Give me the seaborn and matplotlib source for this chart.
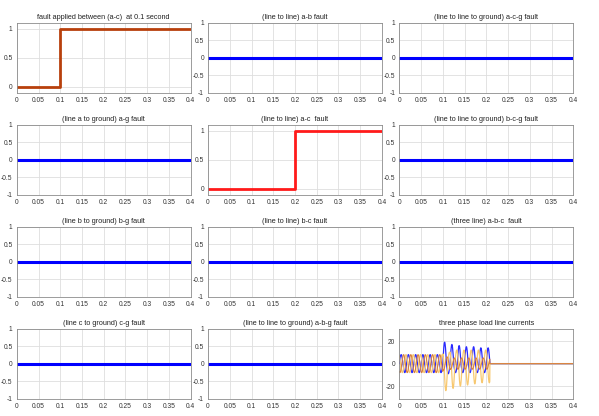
import numpy as np
import pandas as pd
import matplotlib
matplotlib.use("Agg")
import matplotlib.pyplot as plt
import seaborn as sns

# fault signals: time break points and levels (step functions)
time_span = [0, 0.4]
flat_t = [0.0, 0.4]
flat_v = [0.0, 0.0]
ac_main_t = [0.0, 0.1, 0.4]
ac_main_v = [0.0, 1.0, 1.0]
ac_line_t = [0.0, 0.2, 0.4]
ac_line_v = [0.0, 1.0, 1.0]

titles = [
    "fault applied between (a-c)  at 0.1 second",
    "(line to line) a-b fault",
    "(line to line to ground) a-c-g fault",
    "(line a to ground) a-g fault",
    "(line to line) a-c  fault",
    "(line to line to ground) b-c-g fault",
    "(line b to ground) b-g fault",
    "(line to line) b-c fault",
    "(three line) a-b-c  fault",
    "(line c to ground) c-g fault",
    "(line to line to ground) a-b-g fault",
    "three phase load line currents",
]

# load currents: 60 Hz, per-cycle peak / trough
freq = 60.0
current_end = 0.208
blue_peaks = [8, 8, 8, 8, 8, 8, 19, 17, 16, 15, 15, 14, 14]
blue_troughs = [-8, -8, -8, -8, -8, -8, -9, -8, -8, -8, -8, -8, -8]
red_peaks = [8, 8, 8, 8, 8, 8, 6, 5, 5, 5, 5, 5, 5]
red_troughs = [-8, -8, -8, -8, -8, -8, -6, -5, -5, -5, -5, -5, -5]
yel_peaks = [8, 8, 8, 8, 8, 8, 10, 12, 12, 12, 12, 12, 12]
yel_troughs = [-8, -8, -8, -8, -8, -8, -24, -22, -20, -19, -18, -17, -17]
phase_shift = [0.0, -2 * np.pi / 3, 2 * np.pi / 3]


def phase_wave(t, peaks, troughs, shift):
    k = np.clip((t * freq).astype(int), 0, len(peaks) - 1)
    s = np.sin(2 * np.pi * freq * t + shift)
    y = np.where(s > 0, s * np.array(peaks)[k], -s * np.array(troughs)[k])
    return np.where(t <= current_end, y, 0.0)


sns.set_theme(style="whitegrid")
plt.rcParams["font.family"] = ["Liberation Sans Narrow", "Liberation Sans", "DejaVu Sans"]
plt.rcParams["font.stretch"] = "condensed"
plt.rcParams["axes.edgecolor"] = "#8c8c8c"
plt.rcParams["axes.linewidth"] = 0.6
plt.rcParams["grid.color"] = "#dedede"
plt.rcParams["grid.linewidth"] = 0.6

fig, axes = plt.subplots(4, 3, figsize=(5.99, 4.16), dpi=100)
fig.subplots_adjust(left=0.028, right=0.957, top=0.945, bottom=0.042,
                    wspace=0.1, hspace=0.46)

xt = [0, 0.05, 0.1, 0.15, 0.2, 0.25, 0.3, 0.35, 0.4]
xl = ["0", "0.05", "0.1", "0.15", "0.2", "0.25", "0.3", "0.35", "0.4"]

for i, ax in enumerate(axes.flat):
    if i == 0:
        sns.lineplot(x=ac_main_t, y=ac_main_v, ax=ax, color="#b8400c",
                     linewidth=2.0, drawstyle="steps-post")
        ax.set_ylim(-0.1, 1.1)
        ax.set_yticks([0, 0.5, 1])
        ax.set_yticklabels(["0", "0.5", "1"])
    elif i == 4:
        sns.lineplot(x=ac_line_t, y=ac_line_v, ax=ax, color="#ff1a1a",
                     linewidth=2.0, drawstyle="steps-post")
        ax.set_ylim(-0.1, 1.1)
        ax.set_yticks([0, 0.5, 1])
        ax.set_yticklabels(["0", "0.5", "1"])
    elif i == 11:
        t = np.linspace(0, 0.4, 4000)
        df = pd.DataFrame({
            "t": t,
            "a": phase_wave(t, blue_peaks, blue_troughs, phase_shift[0]),
            "b": phase_wave(t, red_peaks, red_troughs, phase_shift[1]),
            "c": phase_wave(t, yel_peaks, yel_troughs, phase_shift[2]),
        })
        sns.lineplot(data=df, x="t", y="a", ax=ax, color="#2a2aff", linewidth=0.9)
        sns.lineplot(data=df, x="t", y="c", ax=ax, color="#f7c870", linewidth=0.9)
        sns.lineplot(data=df, x="t", y="b", ax=ax, color="#d9823f", linewidth=0.8)
        ax.set_ylim(-31, 31)
        ax.set_yticks([-20, 0, 20])
        ax.set_yticklabels(["-20", "0", "20"])
    else:
        sns.lineplot(x=flat_t, y=flat_v, ax=ax, color="#0000ff", linewidth=2.2)
        ax.set_ylim(-1, 1)
        ax.set_yticks([-1, -0.5, 0, 0.5, 1])
        ax.set_yticklabels(["-1", "-0.5", "0", "0.5", "1"])
    ax.set_xlim(time_span)
    ax.set_xticks(xt)
    ax.set_xticklabels(xl)
    ax.set_xlabel("")
    ax.set_ylabel("")
    ax.set_title(titles[i], fontsize=5.2, pad=3, color="#222222")
    ax.tick_params(axis="both", labelsize=4.8, length=0, pad=3, colors="#333333")

plt.savefig("out.png", dpi=100)
